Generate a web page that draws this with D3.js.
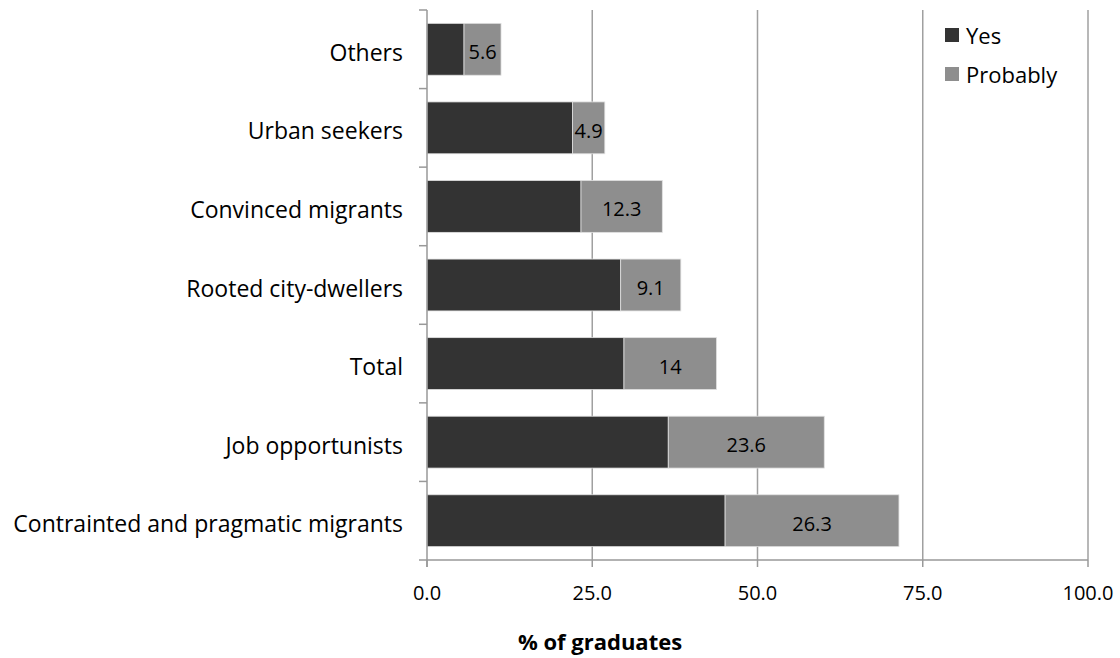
<!DOCTYPE html>
<html>
<head>
<meta charset="utf-8">
<script src="https://cdn.jsdelivr.net/npm/d3@7"></script>
<style>
body { margin: 0; padding: 0; background: #fff; }
svg { display: block; font-family: "Open Sans", "Liberation Sans", sans-serif; }
</style>
</head>
<body>
<script>
// data
var categories = ["Others", "Urban seekers", "Convinced migrants", "Rooted city-dwellers",
    "Total", "Job opportunists", "Contrainted and pragmatic migrants"];
var yesValues = [5.6, 22.0, 23.3, 29.3, 29.8, 36.5, 45.1];
var probablyValues = [5.6, 4.9, 12.3, 9.1, 14, 23.6, 26.3];
var xTicks = [0, 25, 50, 75, 100];
var seriesNames = ["Yes", "Probably"];
var seriesColors = ["#333333", "#8e8e8e"];

var width = 1120, height = 658;
var plotLeft = 427, plotRight = 1088, plotTop = 10, plotBottom = 560;

var svg = d3.select("body").append("svg")
    .attr("width", width)
    .attr("height", height);

var x = d3.scaleLinear().domain([0, 100]).range([plotLeft, plotRight]);
var y = d3.scaleBand().domain(categories).range([plotTop, plotBottom]).paddingInner(0.34).paddingOuter(0.17);
var band = d3.scaleBand().domain(categories).range([plotTop, plotBottom]);

// gridlines
svg.selectAll("line.grid")
    .data(xTicks.slice(1))
    .enter().append("line")
    .attr("x1", function(d) { return x(d); })
    .attr("x2", function(d) { return x(d); })
    .attr("y1", plotTop).attr("y2", plotBottom)
    .style("stroke", "#a0a0a0")
    .style("stroke-width", 1.5);

// stacked bars
var rows = categories.map(function(c, i) {
    return {cat: c, yes: yesValues[i], prob: probablyValues[i]};
});

svg.selectAll("rect.yes")
    .data(rows).enter().append("rect")
    .attr("x", x(0))
    .attr("y", function(d) { return y(d.cat); })
    .attr("width", function(d) { return x(d.yes) - x(0); })
    .attr("height", y.bandwidth())
    .style("fill", seriesColors[0])
    .style("stroke", "#e0e0e0")
    .style("stroke-width", 0.8);

svg.selectAll("rect.prob")
    .data(rows).enter().append("rect")
    .attr("x", function(d) { return x(d.yes); })
    .attr("y", function(d) { return y(d.cat); })
    .attr("width", function(d) { return x(d.yes + d.prob) - x(d.yes); })
    .attr("height", y.bandwidth())
    .style("fill", seriesColors[1])
    .style("stroke", "#e0e0e0")
    .style("stroke-width", 0.8);

svg.selectAll("text.val")
    .data(rows).enter().append("text")
    .attr("x", function(d) { return x(d.yes + d.prob / 2); })
    .attr("y", function(d) { return y(d.cat) + y.bandwidth() / 2; })
    .attr("dy", "0.5em")
    .attr("text-anchor", "middle")
    .attr("font-size", 20)
    .style("fill", "#000")
    .text(function(d) { return d.prob; });

// y axis
svg.append("line")
    .attr("x1", plotLeft).attr("x2", plotLeft)
    .attr("y1", plotTop).attr("y2", plotBottom + 7)
    .style("stroke", "#999").style("stroke-width", 1.5);
var yTickPos = categories.map(function(c) { return band(c); }).concat([plotBottom]);
svg.selectAll("line.ytick")
    .data(yTickPos).enter().append("line")
    .attr("x1", plotLeft - 8).attr("x2", plotLeft)
    .attr("y1", function(d) { return d; })
    .attr("y2", function(d) { return d; })
    .style("stroke", "#999").style("stroke-width", 1.5);
svg.selectAll("text.cat")
    .data(categories).enter().append("text")
    .attr("x", plotLeft - 24)
    .attr("y", function(c) { return band(c) + band.bandwidth() / 2; })
    .attr("dy", "0.5em")
    .attr("text-anchor", "end")
    .attr("font-size", 23)
    .style("fill", "#000")
    .text(function(c) { return c; });

// x axis
svg.append("line")
    .attr("x1", plotLeft).attr("x2", plotRight)
    .attr("y1", plotBottom).attr("y2", plotBottom)
    .style("stroke", "#999").style("stroke-width", 1.5);
svg.selectAll("line.xtick")
    .data(xTicks).enter().append("line")
    .attr("x1", function(d) { return x(d); })
    .attr("x2", function(d) { return x(d); })
    .attr("y1", plotBottom).attr("y2", plotBottom + 7)
    .style("stroke", "#999").style("stroke-width", 1.5);
svg.selectAll("text.xlab")
    .data(xTicks).enter().append("text")
    .attr("x", function(d) { return x(d); })
    .attr("y", 600)
    .attr("text-anchor", "middle")
    .attr("font-size", 20)
    .style("fill", "#000")
    .text(function(d) { return d3.format(".1f")(d); });

svg.append("text")
    .attr("x", 600)
    .attr("y", 650)
    .attr("text-anchor", "middle")
    .attr("font-size", 22)
    .attr("font-weight", "bold")
    .style("fill", "#000")
    .text("% of graduates");

// legend
var legend = svg.selectAll("g.legend")
    .data(seriesNames).enter().append("g")
    .attr("transform", function(_, i) { return "translate(945," + (28 + i * 39) + ")"; });
legend.append("rect")
    .attr("width", 14).attr("height", 14)
    .style("fill", function(_, i) { return seriesColors[i]; });
legend.append("text")
    .attr("x", 21).attr("y", 16)
    .attr("font-size", 22)
    .style("fill", "#000")
    .text(function(d) { return d; });
</script>
</body>
</html>
